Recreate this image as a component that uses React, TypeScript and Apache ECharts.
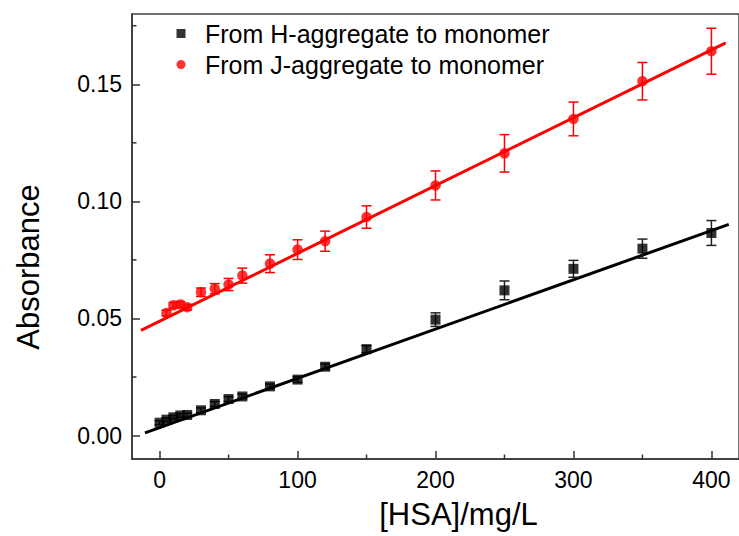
import React, { useEffect, useRef } from "react";
import * as echarts from "echarts";

// H-aggregate -> monomer (black squares)
const hX = [0, 5, 10, 15, 20, 30, 40, 50, 60, 80, 100, 120, 150, 200, 250, 300, 350, 400];
const hY = [0.0055, 0.0068, 0.0078, 0.0086, 0.0088, 0.0108, 0.0135, 0.0156, 0.0167, 0.021, 0.0239, 0.0294, 0.0369, 0.0495, 0.062, 0.0712, 0.0798, 0.0865];
const hErr = [0.0008, 0.0008, 0.0008, 0.0008, 0.0008, 0.001, 0.001, 0.001, 0.001, 0.001, 0.0012, 0.0012, 0.0015, 0.0029, 0.004, 0.0036, 0.0041, 0.0053];

// J-aggregate -> monomer (red circles)
const jX = [5, 10, 15, 20, 30, 40, 50, 60, 80, 100, 120, 150, 200, 250, 300, 350, 400];
const jY = [0.0523, 0.0556, 0.056, 0.0548, 0.0612, 0.0627, 0.0645, 0.0683, 0.0734, 0.0794, 0.083, 0.0933, 0.1068, 0.1205, 0.1352, 0.1513, 0.1641];
const jErr = [0.0012, 0.0012, 0.0012, 0.0012, 0.0018, 0.0022, 0.0026, 0.0032, 0.0038, 0.0042, 0.0043, 0.0048, 0.0062, 0.008, 0.0072, 0.008, 0.0098];

// linear fit lines (end points)
const hFitX = [-10.6, 412.6];
const hFitY = [0.00115, 0.0902];
const jFitX = [-13.5, 410.4];
const jFitY = [0.0449, 0.1677];

const X_MIN = -20;
const X_MAX = 420;
const Y_MIN = -0.01;
const Y_MAX = 0.18;

const xMajor = [0, 100, 200, 300, 400];
const xMinor = [50, 150, 250, 350];
const yMajor = [0, 0.05, 0.1, 0.15];
const yMinor = [0.025, 0.075, 0.125, 0.175];

const hName = "From H-aggregate to monomer";
const jName = "From J-aggregate to monomer";

const FONT = "'Liberation Sans', Arial, sans-serif";
const AXIS_COLOR = "#333";

function errorSeries(xs: number[], ys: number[], es: number[], color: string, hw: number) {
  return {
    type: "custom",
    xAxisIndex: 0,
    yAxisIndex: 0,
    z: 3,
    silent: true,
    data: xs.map((x, i) => [x, ys[i] - es[i], ys[i] + es[i]]),
    encode: { x: 0, y: [1, 2] },
    renderItem: (params: any, api: any) => {
      const x = api.value(0);
      const top = api.coord([x, api.value(2)]);
      const bot = api.coord([x, api.value(1)]);
      const style = { stroke: color, lineWidth: 1.5, fill: "none" };
      return {
        type: "group",
        children: [
          { type: "line", shape: { x1: top[0], y1: top[1], x2: bot[0], y2: bot[1] }, style },
          { type: "line", shape: { x1: top[0] - hw, y1: top[1], x2: top[0] + hw, y2: top[1] }, style },
          { type: "line", shape: { x1: bot[0] - hw, y1: bot[1], x2: bot[0] + hw, y2: bot[1] }, style },
        ],
      };
    },
  };
}

// minor ticks drawn inward from the axis edges
function minorTickSeries(points: number[][], dx: number, dy: number) {
  return {
    type: "custom",
    xAxisIndex: 0,
    yAxisIndex: 0,
    z: 5,
    silent: true,
    clip: false,
    data: points,
    encode: { x: 0, y: 1 },
    renderItem: (params: any, api: any) => {
      const p = api.coord([api.value(0), api.value(1)]);
      return {
        type: "line",
        shape: { x1: p[0], y1: p[1], x2: p[0] + dx, y2: p[1] + dy },
        style: { stroke: AXIS_COLOR, lineWidth: 1.5 },
      };
    },
  };
}

export default function App() {
  const ref = useRef<HTMLDivElement>(null);
  useEffect(() => {
    if (!ref.current) return;
    const chart = echarts.init(ref.current, undefined, { renderer: "svg" });
    const tickStyle = { color: AXIS_COLOR, width: 1.5 };
    chart.setOption({
      animation: false,
      backgroundColor: "#fff",
      grid: {
        left: 132,
        top: 14,
        bottom: 77,
        right: -3,
        show: true,
        borderColor: "#444",
        borderWidth: 1.5,
      },
      legend: {
        data: [hName, jName],
        orient: "vertical",
        left: 171.5,
        top: 16,
        itemWidth: 9,
        itemHeight: 9,
        itemGap: 6,
        textStyle: { fontSize: 25, fontFamily: FONT, color: "#000", padding: [0, 0, 0, 14.5] },
      },
      xAxis: {
        type: "value",
        min: X_MIN,
        max: X_MAX,
        position: "bottom",
        name: "[HSA]/mg/L",
        nameLocation: "middle",
        nameGap: 40,
        nameTextStyle: { fontSize: 31, fontFamily: FONT, color: "#000", padding: [0, 0, 0, 46] },
        splitLine: { show: false },
        axisLine: { show: true, onZero: false, lineStyle: tickStyle },
        axisTick: { show: true, inside: true, length: 8, lineStyle: tickStyle, customValues: xMajor },
        axisLabel: {
          show: true,
          fontSize: 23,
          fontFamily: FONT,
          color: "#000",
          margin: 9,
          customValues: xMajor,
        },
      },
      yAxis: {
        type: "value",
        min: Y_MIN,
        max: Y_MAX,
        position: "left",
        name: "Absorbance",
        nameLocation: "middle",
        nameGap: 88,
        nameTextStyle: { fontSize: 31, fontFamily: FONT, color: "#000", padding: [0, 61, 0, 0] },
        splitLine: { show: false },
        axisLine: { show: true, onZero: false, lineStyle: tickStyle },
        axisTick: { show: true, inside: true, length: 8, lineStyle: tickStyle, customValues: yMajor },
        axisLabel: {
          show: true,
          fontSize: 23,
          fontFamily: FONT,
          color: "#000",
          margin: 10,
          customValues: yMajor,
          formatter: (v: number) => v.toFixed(2),
        },
      },
      series: [
        {
          type: "line",
          data: hFitX.map((x, i) => [x, hFitY[i]]),
          showSymbol: false,
          symbol: "none",
          lineStyle: { color: "#000", width: 3 },
          z: 2,
          silent: true,
        },
        {
          type: "line",
          data: jFitX.map((x, i) => [x, jFitY[i]]),
          showSymbol: false,
          symbol: "none",
          lineStyle: { color: "#ff0000", width: 3 },
          z: 2,
          silent: true,
        },
        errorSeries(hX, hY, hErr, "#222", 5),
        errorSeries(jX, jY, jErr, "#ff0000", 5),
        minorTickSeries(xMinor.map((v) => [v, Y_MIN]), 0, -4.5),
        minorTickSeries(yMinor.map((v) => [X_MIN, v]), 4.5, 0),
        {
          name: hName,
          type: "scatter",
          symbol: "rect",
          symbolSize: 10,
          itemStyle: { color: "#000" },
          data: hX.map((x, i) => [x, hY[i]]),
          z: 4,
        },
        {
          name: jName,
          type: "scatter",
          symbol: "circle",
          symbolSize: 10.5,
          itemStyle: { color: "#ff0000" },
          data: jX.map((x, i) => [x, jY[i]]),
          z: 4,
        },
      ],
    });
    return () => chart.dispose();
  }, []);
  return (
    <div
      ref={ref}
      style={{ position: "fixed", left: 0, top: 0, width: 739, height: 536, background: "#fff" }}
    />
  );
}
